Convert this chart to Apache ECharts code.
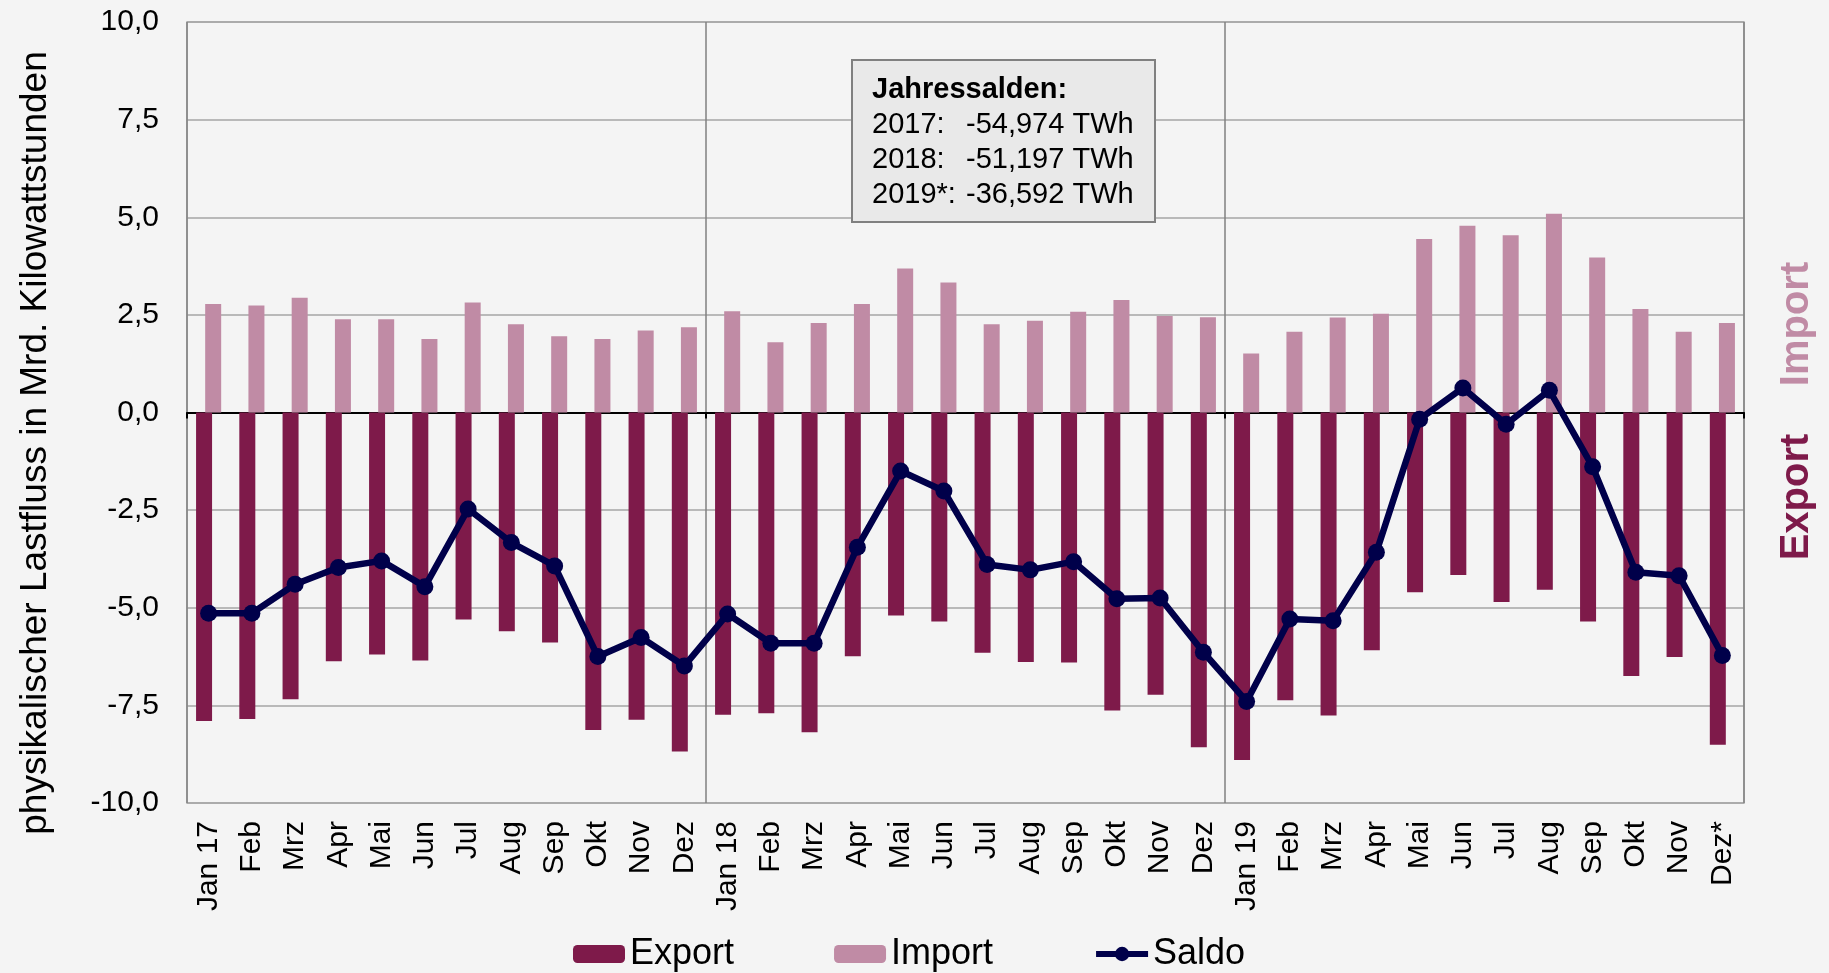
<!DOCTYPE html>
<html>
<head>
<meta charset="utf-8">
<title>Lastfluss</title>
<script src="https://cdn.jsdelivr.net/npm/echarts@6/dist/echarts.min.js"></script>
<style>
    html, body {margin: 0; padding: 0; background: #f4f4f4;}
    #chart {width: 1829px; height: 973px;}
</style>
</head>
<body>
<div id="chart"></div>
<script>
// Monatswerte 2017 - 2019 (Mrd. kWh)
var months = ['Jan 17', 'Feb', 'Mrz', 'Apr', 'Mai', 'Jun', 'Jul', 'Aug', 'Sep', 'Okt', 'Nov', 'Dez',
    'Jan 18', 'Feb', 'Mrz', 'Apr', 'Mai', 'Jun', 'Jul', 'Aug', 'Sep', 'Okt', 'Nov', 'Dez',
    'Jan 19', 'Feb', 'Mrz', 'Apr', 'Mai', 'Jun', 'Jul', 'Aug', 'Sep', 'Okt', 'Nov', 'Dez*'];

var exportVals = [-7.90, -7.85, -7.34, -6.37, -6.20, -6.35, -5.30, -5.60, -5.89, -8.13, -7.87, -8.68,
    -7.74, -7.70, -8.19, -6.24, -5.20, -5.35, -6.15, -6.39, -6.40, -7.63, -7.23, -8.57,
    -8.90, -7.37, -7.76, -6.09, -4.60, -4.16, -4.85, -4.54, -5.35, -6.75, -6.26, -8.51];

var importVals = [2.78, 2.74, 2.94, 2.39, 2.39, 1.88, 2.82, 2.26, 1.95, 1.88, 2.10, 2.18,
    2.59, 1.80, 2.29, 2.78, 3.69, 3.33, 2.26, 2.35, 2.58, 2.88, 2.47, 2.44,
    1.51, 2.07, 2.43, 2.53, 4.44, 4.78, 4.54, 5.09, 3.97, 2.65, 2.07, 2.29];

var saldoVals = [-5.14, -5.14, -4.40, -3.97, -3.80, -4.46, -2.47, -3.33, -3.93, -6.25, -5.76, -6.49,
    -5.16, -5.91, -5.91, -3.45, -1.50, -2.01, -3.89, -4.03, -3.82, -4.77, -4.75, -6.14,
    -7.40, -5.29, -5.33, -3.58, -0.17, 0.63, -0.30, 0.57, -1.39, -4.09, -4.18, -6.22];

var yearNames = ['2017:', '2018:', '2019*:'];
var yearTotals = ['-54,974 TWh', '-51,197 TWh', '-36,592 TWh'];

var colExport = '#7e1a4a';
var colImport = '#c08ba5';
var colSaldo = '#00004a';
var font = 'Liberation Sans';

var graphics = [
    {
        type: 'text', x: 36, y: 443, rotation: Math.PI / 2,
        style: {
            text: 'physikalischer Lastfluss in Mrd. Kilowattstunden',
            font: '37px "' + font + '"', fill: '#000', align: 'center', verticalAlign: 'middle'
        }
    },
    {
        type: 'rect', shape: {x: 852, y: 60, width: 303, height: 162},
        style: {fill: '#e9e9e9', stroke: '#808080', lineWidth: 2}, z: 10
    },
    {
        type: 'text', x: 872, y: 75, z: 11,
        style: {text: 'Jahressalden:', font: 'bold 29px "' + font + '"', fill: '#000', verticalAlign: 'top'}
    },
    {
        type: 'text', x: 1797, y: 324, rotation: Math.PI / 2,
        style: {text: 'Import', font: 'bold 40px "' + font + '"', fill: colImport, align: 'center', verticalAlign: 'middle'}
    },
    {
        type: 'text', x: 1797, y: 497, rotation: Math.PI / 2,
        style: {text: 'Export', font: 'bold 40px "' + font + '"', fill: colExport, align: 'center', verticalAlign: 'middle'}
    }
];
for (var i = 0; i < yearNames.length; i++) {
    graphics.push({
        type: 'text', x: 872, y: 110 + i * 35, z: 11,
        style: {text: yearNames[i], font: '29px "' + font + '"', fill: '#000', verticalAlign: 'top'}
    });
    graphics.push({
        type: 'text', x: 966, y: 110 + i * 35, z: 11,
        style: {text: yearTotals[i], font: '29px "' + font + '"', fill: '#000', verticalAlign: 'top'}
    });
}

var chart = echarts.init(document.getElementById('chart'));
chart.setOption({
    animation: false,
    backgroundColor: '#f4f4f4',
    textStyle: {fontFamily: font},
    grid: {
        left: 187, right: 85, top: 22, bottom: 170,
        show: true, borderColor: '#a6a6a6', borderWidth: 1.5, backgroundColor: '#f4f4f4'
    },
    legend: {
        top: 936,
        left: 573,
        padding: 0,
        itemWidth: 52, itemHeight: 18, itemGap: 100,
        textStyle: {fontSize: 36, color: '#000', fontFamily: font},
        lineStyle: {width: 6},
        data: ['Export', 'Import', 'Saldo']
    },
    xAxis: [
        {
            type: 'category', data: months, position: 'bottom',
            axisLine: {show: false, onZero: false},
            axisTick: {show: false},
            axisLabel: {rotate: 90, interval: 0, fontSize: 30, color: '#000', margin: 18}
        },
        {
            // Nulllinie mit Jahresstrichen
            type: 'category', data: months, position: 'top',
            axisLine: {onZero: true, lineStyle: {color: '#000', width: 2}},
            axisTick: {
                show: true, inside: true, length: 6,
                interval: function (idx) { return idx % 12 === 0; },
                lineStyle: {color: '#000', width: 2}
            },
            axisLabel: {show: false}
        },
        {
            // Jahrestrennlinien
            type: 'value', min: 0, max: 36, interval: 12, position: 'top',
            axisLine: {show: false}, axisTick: {show: false}, axisLabel: {show: false},
            splitLine: {show: true, lineStyle: {color: '#808080', width: 1.5}}
        }
    ],
    yAxis: {
        type: 'value', min: -10, max: 10, interval: 2.5,
        axisLine: {show: false}, axisTick: {show: false},
        axisLabel: {
            fontSize: 30, color: '#000', margin: 28,
            formatter: function (v) { return v.toFixed(1).replace('.', ','); }
        },
        splitLine: {lineStyle: {color: '#a6a6a6', width: 1.5}}
    },
    series: [
        {
            name: 'Export', type: 'bar', data: exportVals, barWidth: 16, barGap: '-43%',
            itemStyle: {color: colExport}
        },
        {
            name: 'Import', type: 'bar', data: importVals, barWidth: 16,
            itemStyle: {color: colImport}
        },
        {
            name: 'Saldo', type: 'line', data: saldoVals, z: 5,
            symbol: 'circle', symbolSize: 17, showAllSymbol: true,
            lineStyle: {color: colSaldo, width: 6.5},
            itemStyle: {color: colSaldo}
        }
    ],
    graphic: graphics
});
</script>
</body>
</html>
